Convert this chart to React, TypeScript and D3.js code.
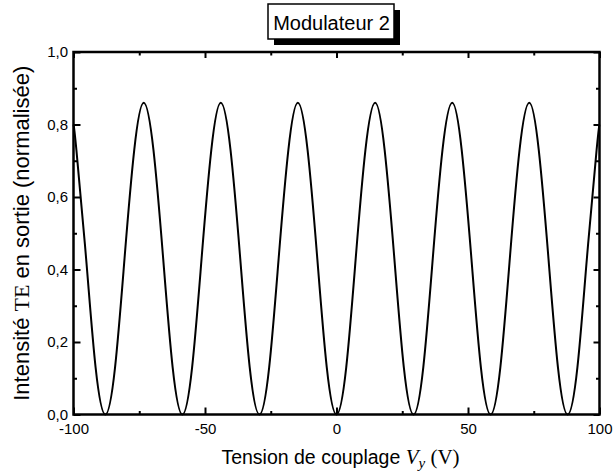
import React, { useEffect, useRef } from "react";
import * as d3 from "d3";

// Tension de couplage Vy (V) (zeros, peaks and points between)
const voltage = [
  -100, -98.9, -95.2, -91.6, -87.9, -84.2, -80.6, -76.9, -73.3, -69.6, -65.9, -62.3,
  -58.6, -54.9, -51.3, -47.6, -44.0, -40.3, -36.6, -33.0, -29.3, -25.6, -22.0, -18.3,
  -14.7, -11.0, -7.3, -3.7, 0, 3.7, 7.3, 11.0, 14.7, 18.3, 22.0, 25.6, 29.3, 33.0,
  36.6, 40.3, 44.0, 47.6, 51.3, 54.9, 58.6, 62.3, 65.9, 69.6, 73.3, 76.9, 80.6, 84.2,
  87.9, 91.6, 95.2, 98.9, 100,
];
// Intensité TE normalisée
const intensity = [
  0.8, 0.73, 0.43, 0.13, 0, 0.13, 0.43, 0.73, 0.86, 0.73, 0.43, 0.13,
  0, 0.13, 0.43, 0.73, 0.86, 0.73, 0.43, 0.13, 0, 0.13, 0.43, 0.73,
  0.86, 0.73, 0.43, 0.13, 0, 0.13, 0.43, 0.73, 0.86, 0.73, 0.43, 0.13, 0, 0.13,
  0.43, 0.73, 0.86, 0.73, 0.43, 0.13, 0, 0.13, 0.43, 0.73, 0.86, 0.73, 0.43, 0.13,
  0, 0.13, 0.43, 0.73, 0.8,
];

const xTicks = [-100, -50, 0, 50, 100];
const xMinorTicks = [-75, -25, 25, 75];
const yTicks = [0, 0.2, 0.4, 0.6, 0.8, 1.0];
const yMinorTicks = [0.1, 0.3, 0.5, 0.7, 0.9];
const title = "Modulateur 2";

const SANS = "'Liberation Sans', Arial, Helvetica, sans-serif";
const SERIF = "'Liberation Serif', 'Times New Roman', serif";

const App: React.FC = () => {
  const svgRef = useRef<SVGSVGElement>(null);

  useEffect(() => {
    const svg = d3.select(svgRef.current);
    svg.selectAll("*").remove();

    const margin = { top: 52, right: 15.5, bottom: 59.5, left: 73.5 };
    const width = 615 - margin.left - margin.right;
    const height = 474 - margin.top - margin.bottom;

    const x = d3.scaleLinear().domain([-100, 100]).range([0, width]);
    const y = d3.scaleLinear().domain([0, 1]).range([height, 0]);

    const g = svg.append("g").attr("transform", `translate(${margin.left},${margin.top})`);

    const comma = (d: d3.NumberValue) => d3.format(".1f")(+d).replace(".", ",");

    // axes: ticks point inward
    const styleAxis = (sel: d3.Selection<SVGGElement, unknown, null, undefined>) => {
      sel.select(".domain").remove();
      sel.selectAll("line").attr("stroke", "#000").attr("stroke-width", 2);
      sel.selectAll("text").attr("font-family", SANS).attr("font-size", 15).attr("fill", "#000");
    };

    g.append("g")
      .attr("transform", `translate(0,${height})`)
      .call(d3.axisBottom(x).tickValues(xTicks).tickSize(-7).tickPadding(9).tickFormat((d) => String(d)))
      .call(styleAxis);
    g.append("g")
      .attr("transform", `translate(0,${height})`)
      .call(d3.axisBottom(x).tickValues(xMinorTicks).tickSize(-3.5).tickFormat(() => ""))
      .call(styleAxis);
    g.append("g")
      .call(d3.axisTop(x).tickValues(xTicks).tickSize(-6).tickFormat(() => ""))
      .call(styleAxis);
    g.append("g")
      .call(d3.axisTop(x).tickValues(xMinorTicks).tickSize(-3.5).tickFormat(() => ""))
      .call(styleAxis);

    g.append("g")
      .call(d3.axisLeft(y).tickValues(yTicks).tickSize(-7).tickPadding(5.5).tickFormat(comma))
      .call(styleAxis);
    g.append("g")
      .call(d3.axisLeft(y).tickValues(yMinorTicks).tickSize(-3.5).tickFormat(() => ""))
      .call(styleAxis);
    g.append("g")
      .attr("transform", `translate(${width},0)`)
      .call(d3.axisRight(y).tickValues(yTicks).tickSize(-6).tickFormat(() => ""))
      .call(styleAxis);
    g.append("g")
      .attr("transform", `translate(${width},0)`)
      .call(d3.axisRight(y).tickValues(yMinorTicks).tickSize(-3.5).tickFormat(() => ""))
      .call(styleAxis);

    // curve
    const line = d3
      .line<number>()
      .x((_, i) => x(voltage[i]))
      .y((d) => y(d))
      .curve(d3.curveNatural);

    g.append("path")
      .datum(intensity)
      .attr("d", line)
      .attr("fill", "none")
      .attr("stroke", "#000")
      .attr("stroke-width", 2);

    // frame
    g.append("rect")
      .attr("width", width)
      .attr("height", height)
      .attr("fill", "none")
      .attr("stroke", "#000")
      .attr("stroke-width", 2.5);

    // title box with shadow
    svg.append("rect").attr("x", 274).attr("y", 10).attr("width", 126).attr("height", 35).attr("fill", "#000");
    svg
      .append("rect")
      .attr("x", 268)
      .attr("y", 4)
      .attr("width", 126)
      .attr("height", 35)
      .attr("fill", "#fff")
      .attr("stroke", "#000")
      .attr("stroke-width", 1.5);
    svg
      .append("text")
      .attr("x", 331.5)
      .attr("y", 29.5)
      .attr("text-anchor", "middle")
      .attr("font-family", SANS)
      .attr("font-size", 20)
      .text(title);

    // y title
    const yt = svg
      .append("text")
      .attr("transform", `translate(29,${margin.top + height / 2}) rotate(-90)`)
      .attr("text-anchor", "middle")
      .attr("font-family", SANS)
      .attr("font-size", 22);
    yt.append("tspan").text("Intensité ");
    yt.append("tspan").attr("font-family", SERIF).text("TE");
    yt.append("tspan").text(" en sortie (normalisée)");

    // x title
    const xt = svg
      .append("text")
      .attr("x", 340.5)
      .attr("y", 464)
      .attr("text-anchor", "middle")
      .attr("font-family", SANS)
      .attr("font-size", 19.5);
    xt.append("tspan").text("Tension de couplage ");
    xt.append("tspan").attr("font-family", SERIF).attr("font-style", "italic").attr("font-size", 21).text("V");
    xt.append("tspan")
      .attr("font-family", SERIF)
      .attr("font-style", "italic")
      .attr("font-size", 15)
      .attr("dy", 4)
      .text("y");
    xt.append("tspan").attr("font-family", SERIF).attr("font-size", 21).attr("dy", -4).text(" (V)");

    return () => {
      svg.selectAll("*").remove();
    };
  }, []);

  return (
    <svg
      ref={svgRef}
      width={615}
      height={474}
      style={{ position: "absolute", left: 0, top: 0, background: "#fff" }}
    />
  );
};

export default App;
